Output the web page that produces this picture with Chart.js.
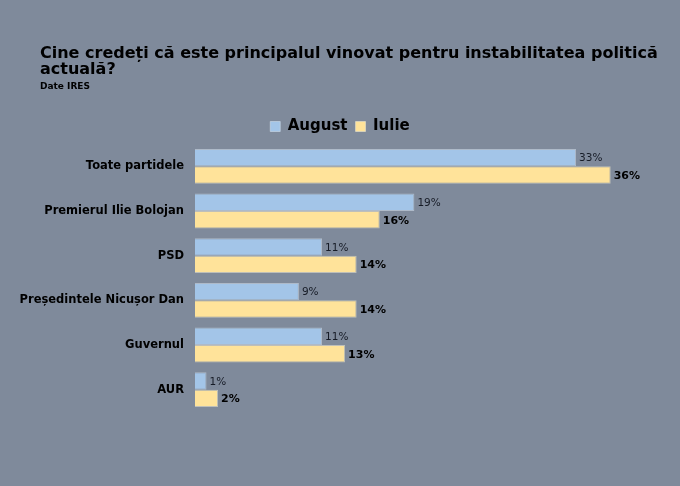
<!DOCTYPE html>
<html>
<head>
<meta charset="utf-8">
<script src="https://cdn.jsdelivr.net/npm/chart.js@4.4.1/dist/chart.umd.min.js"></script>
<style>
  html, body { margin: 0; padding: 0; background: #7f8a9b; }
  #wrap { width: 680px; height: 486px; }
</style>
</head>
<body>
<div id="wrap"><canvas id="chart"></canvas></div>
<script>
const categories = ['Toate partidele', 'Premierul Ilie Bolojan', 'PSD', 'Președintele Nicușor Dan', 'Guvernul', 'AUR'];
const august = [33, 19, 11, 9, 11, 1];
const iulie = [36, 16, 14, 14, 13, 2];
const seriesNames = ['August', 'Iulie'];
const titleLines = ['Cine credeți că este principalul vinovat pentru instabilitatea politică', 'actuală?'];
const subtitleText = 'Date IRES';

const FONT = "'DejaVu Sans', sans-serif";

// fond + titlu desenate direct pe canvas
const backgroundPlugin = {
  id: 'bg',
  beforeDraw(chart) {
    const { ctx, width, height } = chart;
    ctx.save();
    ctx.fillStyle = '#7f8a9b';
    ctx.fillRect(0, 0, width, height);
    ctx.restore();
  },
  afterDraw(chart) {
    const { ctx } = chart;
    ctx.save();
    ctx.fillStyle = '#000';
    ctx.textAlign = 'left';
    ctx.textBaseline = 'alphabetic';
    ctx.font = `bold 16px ${FONT}`;
    ctx.fillText(titleLines[0], 40, 58);
    ctx.fillText(titleLines[1], 40, 74);
    ctx.font = `bold 9px ${FONT}`;
    ctx.fillText(subtitleText, 40, 89);
    ctx.restore();
  }
};

// etichete cu procente la capatul barelor
const valueLabels = {
  id: 'valueLabels',
  afterDatasetsDraw(chart) {
    const { ctx } = chart;
    ctx.save();
    ctx.textAlign = 'left';
    ctx.textBaseline = 'middle';
    chart.data.datasets.forEach((ds, i) => {
      const meta = chart.getDatasetMeta(i);
      meta.data.forEach((bar, j) => {
        if (i === 0) {
          ctx.font = `10.5px ${FONT}`;
          ctx.fillStyle = '#161b26';
        } else {
          ctx.font = `bold 11px ${FONT}`;
          ctx.fillStyle = '#000';
        }
        ctx.fillText(`${ds.data[j]}%`, bar.x + 3, bar.y + 1);
      });
    });
    ctx.restore();
  }
};

new Chart(document.getElementById('chart'), {
  type: 'bar',
  data: {
    labels: categories,
    datasets: [
      {
        label: seriesNames[0],
        data: august,
        backgroundColor: '#a3c5e8',
        borderColor: 'rgba(205,218,232,0.6)',
        borderWidth: 1
      },
      {
        label: seriesNames[1],
        data: iulie,
        backgroundColor: '#ffe39a',
        borderColor: 'rgba(232,226,205,0.6)',
        borderWidth: 1
      }
    ]
  },
  options: {
    indexAxis: 'y',
    responsive: true,
    maintainAspectRatio: false,
    animation: false,
    devicePixelRatio: 1,
    layout: { padding: { top: 111, right: 0, bottom: 74, left: 0 } },
    datasets: { bar: { barPercentage: 1, categoryPercentage: 0.78 } },
    scales: {
      x: { display: false, min: 0, max: 42 },
      y: {
        afterFit(scale) { scale.width = 195; },
        grid: { display: false, drawTicks: false },
        border: { display: false },
        ticks: {
          padding: 11,
          color: '#000',
          font: { family: FONT, size: 11.5, weight: 'bold' }
        }
      }
    },
    plugins: {
      legend: {
        position: 'top',
        align: 'center',
        labels: {
          color: '#000',
          boxWidth: 10,
          boxHeight: 10,
          padding: 8,
          font: { family: FONT, size: 15, weight: 'bold' }
        }
      },
      tooltip: { enabled: false }
    }
  },
  plugins: [backgroundPlugin, valueLabels]
});
</script>
</body>
</html>
